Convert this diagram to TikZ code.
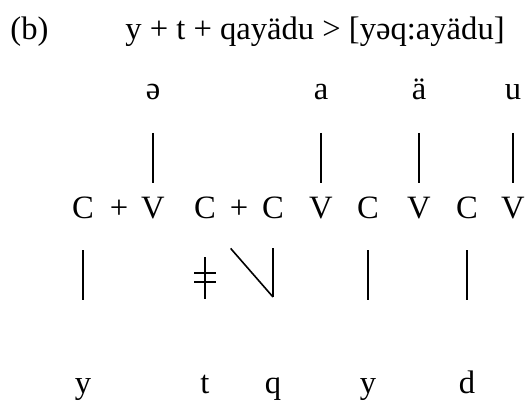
\documentclass[tikz,border=0pt]{standalone}
\usepackage{fontspec}
\setmainfont{Liberation Serif}
\begin{document}
\begin{tikzpicture}[x=0.5pt, y=-0.5pt,
    every node/.style={font=\fontsize{16.3}{19}\selectfont, inner sep=0pt, anchor=base},
    link/.style={line width=0.8pt},
    uplink/.style={link, shorten <=16.5pt, shorten >=18pt},
    downlink/.style={link, shorten <=15.5pt, shorten >=46.5pt},
    cut/.style={line width=1.2pt}]
    \useasboundingbox (0,0) rectangle (528,400);

    % title line
    \node[anchor=base west] (lbl) at (10,40) {(b)};
    \node[anchor=base west] (form) at (125,40) {y + t + qayädu > [yəq:ayädu]};

    % vowel melody
    \node (e) at (153,100) {ə};
    \node (a) at (321,100) {a};
    \node (ae) at (419,100) {ä};
    \node (u) at (513,100) {u};

    % CV skeleton
    \foreach \name/\x/\txt in {k1/83/C, p1/119/+, k2/153/V, k3/205/C, p2/239/+,
                               k4/273/C, k5/321/V, k6/368/C, k7/419/V, k8/467/C, k9/513/V}
        \node (\name) at (\x,219) {\txt};

    % consonant melody
    \node (y1) at (83,393) {y};
    \node (t) at (205,393) {t};
    \node (q) at (273,393) {q};
    \node (y2) at (368,393) {y};
    \node (d) at (467,393) {d};

    % association lines, vowels
    \draw[uplink] (e.base) -- (k2.base);
    \draw[uplink] (a.base) -- (k5.base);
    \draw[uplink] (ae.base) -- (k7.base);
    \draw[uplink] (u.base) -- (k9.base);

    % association lines, consonants
    \draw[downlink] (k1.base) -- (y1.base);
    \draw[downlink] (k6.base) -- (y2.base);
    \draw[downlink] (k8.base) -- (d.base);

    % delinked t
    \draw[cut, shorten <=19pt, shorten >=47pt] (k3.base) -- (t.base)
        coordinate[pos=0.31] (bar1) coordinate[pos=0.362] (bar2);
    \draw[cut] ([xshift=-5.5pt]bar1) -- ([xshift=5.5pt]bar1);
    \draw[cut] ([xshift=-5.5pt]bar2) -- ([xshift=5.5pt]bar2);

    % q spreads to the free C
    \coordinate (qfoot) at (273,297);
    \draw[link, shorten <=19.5pt] (k3.base) -- (qfoot);
    \draw[link, shorten <=14.5pt] (k4.base) -- (qfoot);
\end{tikzpicture}
\end{document}
